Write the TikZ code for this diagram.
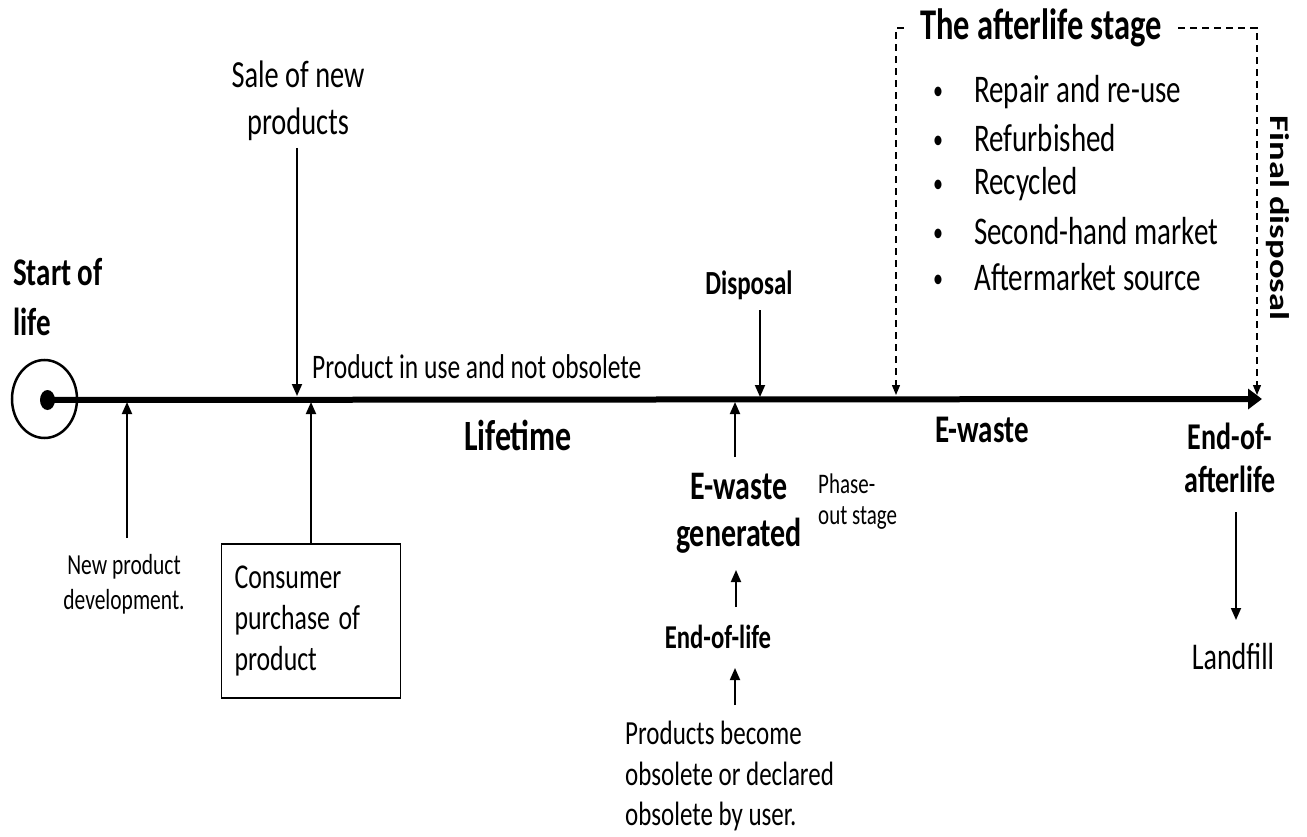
\documentclass[tikz,border=0pt]{standalone}
\usepackage{fontspec}
\setmainfont{Carlito}
\usetikzlibrary{arrows.meta,shapes.geometric}

\begin{document}
\begin{tikzpicture}
		[x=1pt,y=1pt,
		 lbl/.style= {inner sep=0pt,yscale=1.35,transform shape},
		 head/.style= {lbl,execute at begin node=\bfseries},
		 arr/.style= {line width=1.8pt,-{Triangle[length=12pt,width=10pt]}},
		 dasharr/.style= {line width=1.3pt,dash pattern=on 7pt off 5pt,-{Triangle[length=10pt,width=8pt]}},
		 timeline/.style= {line width=6pt,-{Triangle[length=14pt,width=20pt]}},
		 box/.style= {lbl,draw,line width=1.8pt,align=left,inner xsep=13pt,text width=153pt,minimum height=114pt}]
		
		\useasboundingbox (0,0) rectangle (1307,-837);
		
		\node[draw,ellipse,line width=2.5pt,minimum width=65pt,minimum height=78pt] (origin) at (44.5,-399) {};
		\node[ellipse,fill,inner sep=0pt,minimum width=15pt,minimum height=20pt] (dot) at (47.5,-400) {};
		\coordinate (eoal) at (1262,-399);
		\draw[timeline] (dot.center) -- (eoal);
		
		% labels along the line
		\node[head,anchor=west,align=left,font=\fontsize{29}{37}\selectfont] (start) at (13,-297) {Start of\\life};
		\node[lbl,align=center,font=\fontsize{28.4}{35}\selectfont] (sale) at (298,-101) {Sale of new\\products};
		\node[lbl,anchor=west,font=\fontsize{25.5}{30}\selectfont] (inuse) at (312,-367) {Product in use and not obsolete};
		\node[head,font=\fontsize{32}{38}\selectfont] (lifetime) at (518,-435) {Lifetime};
		\node[lbl,align=center,font=\fontsize{21.5}{26}\selectfont] (newdev) at (124,-584) {New product\\development.};
		\node[box,font=\fontsize{25.8}{30.4}\selectfont] (buy) at (311,-621) {Consumer\\purchase of\\product};
		\node[head,font=\fontsize{25}{30}\selectfont] (disposal) at (749,-285) {Disposal};
		\node[head,align=center,font=\fontsize{30}{35}\selectfont] (generated) at (739,-513) {E-waste\\generated};
		\node[lbl,anchor=west,align=left,font=\fontsize{21}{23}\selectfont] (phase) at (818,-502) {Phase-\\out stage};
		\node[head,font=\fontsize{24.7}{30}\selectfont] (eol) at (718,-637) {End-of-life};
		\node[lbl,anchor=west,align=left,font=\fontsize{25}{30}\selectfont] (obsolete) at (625,-776) {Products become\\obsolete or declared\\obsolete by user.};
		\node[head,font=\fontsize{29}{35}\selectfont] (ewaste) at (982,-430) {E-waste};
		\node[head,align=center,font=\fontsize{28}{32}\selectfont] (afterend) at (1230,-458) {End-of-\\afterlife};
		\node[lbl,font=\fontsize{28}{33}\selectfont] (landfill) at (1233,-657) {Landfill};
		\node[head,rotate=-90,font=\fontsize{27}{32}\selectfont] (final) at (1278,-218) {Final disposal};
		
		% afterlife stage
		\node[head,inner xsep=16pt,font=\fontsize{32.5}{38}\selectfont] (stage) at (1041,-28) {The afterlife stage};
		\foreach \entry [count=\i] in {Repair and re-use,Refurbished,Recycled,Second-hand market,Aftermarket source}
			\node[lbl,anchor=west,font=\fontsize{29}{35}\selectfont] (item\i) at (974,{-92-46.2*(\i-1)})
				{\llap{\raisebox{2pt}{\fontsize{20}{20}\selectfont\textbullet}\hspace{31pt}}\entry};
		
		\coordinate (afterin) at (896,-395);
		\coordinate (afterout) at (1257,-395);
		\draw[dasharr] (stage.west) -| (afterin);
		\draw[dasharr] (stage.east) -| (afterout);
		
		% arrows
		\coordinate (devfoot) at (127,-538);
		\coordinate (devhit) at (127,-402);
		\coordinate (saletop) at (297,-148);
		\coordinate (salehit) at (297,-396);
		\coordinate (disptop) at (760,-310);
		\coordinate (disphit) at (760,-397);
		\coordinate (genfoot) at (735,-457);
		\coordinate (genhit) at (735,-402);
		\coordinate (eolfoot) at (736,-607);
		\coordinate (eolhit) at (736,-570);
		\coordinate (obsfoot) at (735,-705);
		\coordinate (obshit) at (735,-668);
		\coordinate (landtop) at (1236,-512);
		\coordinate (landhit) at (1236,-620);
		
		\draw[arr] (devfoot) -- (devhit);
		\draw[arr] (saletop) -- (salehit);
		\draw[arr] (buy.north) -- (buy.north |- devhit);
		\draw[arr] (disptop) -- (disphit);
		\draw[arr] (genfoot) -- (genhit);
		\draw[arr] (eolfoot) -- (eolhit);
		\draw[arr] (obsfoot) -- (obshit);
		\draw[arr] (landtop) -- (landhit);
		
	\end{tikzpicture}
\end{document}
